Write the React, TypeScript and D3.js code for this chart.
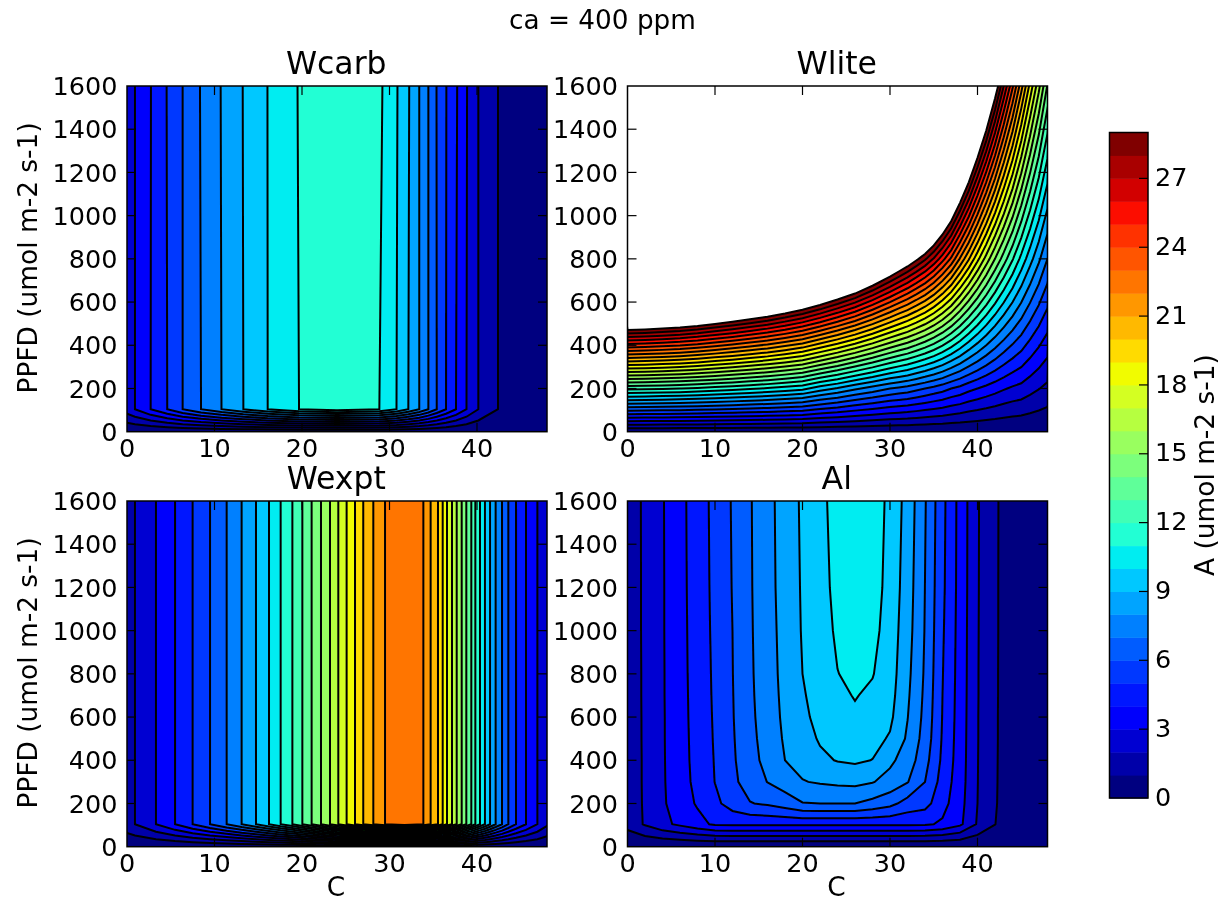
import React from "react";
import * as d3 from "d3";

const levels = d3.range(0, 30);
const cTicks = [0, 10, 20, 30, 40];
const ppfdTicks = [0, 200, 400, 600, 800, 1000, 1200, 1400, 1600];
const barTicks = [0, 3, 6, 9, 12, 15, 18, 21, 24, 27];

// Wcarb: columns sit on the places where the lines cross
const wcarbC = [0, 0.91, 2.7, 4.6, 6.36, 8.46, 10.8, 13.3, 16.08, 19.66, 24, 28.84, 30.8, 32.15, 33.4, 34.44, 35.4, 36.46, 37.6, 38.8, 40.15, 42.4, 44, 46, 48];
const wcarbPpfd = [0, 104, 1600];
const wcarbLow = [2.49, 3, 4, 5, 6, 7, 8, 9, 10, 11, 11.5, 11, 10, 9, 8, 7, 6, 5, 4, 3, 2, 1, 0.3, 0, 0];
const wcarbHigh = [2.49, 3, 3.98, 5.04, 6, 7.06, 8.04, 9.03, 10.01, 11.05, 11.6, 11.2, 10.08, 9.09, 8, 7, 5.97, 5.03, 4.12, 3.05, 2, 1, 0.3, 0, 0];

// Wexpt
const wexptC = [0, 0.91, 3.31, 5.49, 7.5, 9.49, 11.39, 13.1, 14.74, 16.23, 17.56, 18.9, 20.04, 21.1, 22.17, 23.2, 24.15, 25.1, 26.06, 27, 28.15, 29.49, 31.7, 33.87, 34.7, 35.54, 36.08, 36.57, 37.14, 37.68, 38.25, 38.78, 39.35, 39.81, 40.34, 40.91, 41.49, 42.13, 42.86, 43.58, 44.46, 45.6, 46.9, 48];
const wexptPpfd = [0, 104, 1600];
const wexptA = [1.62, 2, 3, 4, 5, 6, 7, 8, 9, 10, 11, 12, 13, 14, 15, 16, 17, 18, 19, 20, 21, 22, 22.9, 22, 21, 20, 19, 18, 17, 16, 15, 14, 13, 12, 11, 10, 9, 8, 7, 6, 5, 4, 3, 2.15];

// Wlite: finer columns where the lines bend hardest
const wliteC = [0, 2, 4, 6, 8, 10, 12, 14, 16, 18, 20, 22, 24, 26, 28, 30, 31, 32, 33, 34, 35, 36, 37, 38, 39, 40, 41, 42, 43, 44, 45, 46, 47, 48];
const wlitePpfd = [0, 200, 800, 1600];
const wlite200 = [12.32, 12.24, 12.14, 12.02, 11.84, 11.62, 11.4, 11.16, 10.9, 10.6, 10.28, 9.5, 8.9, 8.2, 7.6, 7.0, 6.8, 6.6, 6.3, 6.0, 5.7, 5.4, 5.0, 4.7, 4.3, 4.0, 3.7, 3.4, 3.1, 2.85, 2.68, 2.34, 2.04, 1.74];
const wlite800 = [49.3, 49.0, 48.6, 48.1, 47.4, 46.5, 45.6, 44.6, 43.6, 42.4, 41.1, 39.8, 38.2, 36.6, 34.6, 32.5, 31.4, 30.4, 29.3, 28.2, 26.9, 25.4, 23.8, 21.9, 20.1, 18.3, 16.6, 15.0, 13.5, 12.1, 10.7, 9.4, 8.2, 7.0];
const wlite1600 = [98.6, 97.9, 97.1, 96.2, 94.7, 93.0, 91.2, 89.3, 87.2, 84.8, 82.2, 79.5, 76.5, 73.1, 69.3, 65.0, 62.9, 60.8, 58.6, 56.3, 53.8, 50.9, 47.5, 43.8, 40.2, 36.6, 33.3, 30.1, 27.0, 24.2, 21.4, 18.7, 16.3, 13.9];

// Al
const alC = d3.range(0, 50, 2);
const alPpfd = [0, 104, 200, 300, 400, 500, 600, 700, 800, 1000, 1200, 1600];
const al104 = [1.35, 2.1, 2.75, 3.2, 3.7, 4.15, 4.2, 4.2, 4.2, 4.2, 4.2, 4.2, 4.2, 4.2, 4.2, 4.2, 4.2, 4.15, 3.85, 3.2, 1.9, 1.02, 0.25, 0, 0];
const al200 = [1.38, 2.13, 2.85, 3.55, 4.1, 4.75, 5.45, 5.95, 6.15, 6.5, 6.95, 7.0, 7.0, 7.0, 6.7, 6.3, 5.6, 5.35, 4.35, 3.35, 2.0, 1.1, 0.27, 0, 0];
const al300 = [1.4, 2.14, 2.88, 3.62, 4.25, 5.02, 5.75, 6.5, 7.02, 7.45, 7.95, 8.1, 8.2, 8.25, 8.05, 7.65, 7.05, 6.0, 4.6, 3.45, 2.02, 1.12, 0.28, 0, 0];
const al400 = [1.4, 2.14, 2.89, 3.65, 4.3, 5.06, 5.85, 6.65, 7.3, 8.0, 8.35, 8.8, 9.05, 9.15, 8.98, 8.2, 7.55, 6.35, 4.8, 3.5, 2.03, 1.13, 0.28, 0, 0];
const al500 = [1.4, 2.15, 2.9, 3.66, 4.33, 5.1, 5.9, 6.72, 7.42, 8.12, 8.6, 9.1, 9.35, 9.5, 9.3, 8.9, 7.85, 6.6, 4.9, 3.53, 2.04, 1.14, 0.29, 0, 0];
const al600 = [1.41, 2.15, 2.9, 3.67, 4.36, 5.13, 5.94, 6.78, 7.5, 8.2, 8.78, 9.3, 9.6, 9.85, 9.6, 9.2, 8.03, 6.72, 4.96, 3.56, 2.04, 1.14, 0.29, 0, 0];
const al700 = [1.41, 2.16, 2.91, 3.68, 4.38, 5.16, 5.96, 6.82, 7.55, 8.25, 8.9, 9.4, 9.8, 10.05, 9.82, 9.35, 8.15, 6.8, 5.0, 3.58, 2.05, 1.15, 0.29, 0, 0];
const al800 = [1.41, 2.16, 2.91, 3.69, 4.4, 5.18, 5.98, 6.85, 7.58, 8.3, 9.0, 9.48, 9.98, 10.2, 10.05, 9.45, 8.25, 6.87, 5.04, 3.6, 2.05, 1.15, 0.3, 0, 0];
const al1000 = [1.42, 2.17, 2.92, 3.7, 4.43, 5.22, 6.0, 6.88, 7.62, 8.35, 9.07, 9.58, 10.15, 10.4, 10.3, 9.55, 8.4, 6.95, 5.12, 3.62, 2.06, 1.16, 0.3, 0, 0];
const al1200 = [1.42, 2.17, 2.92, 3.71, 4.46, 5.25, 6.04, 6.9, 7.66, 8.4, 9.1, 9.68, 10.25, 10.55, 10.45, 9.65, 8.5, 6.99, 5.2, 3.65, 2.07, 1.16, 0.3, 0, 0];
const al1600 = [1.42, 2.18, 2.93, 3.73, 4.48, 5.29, 6.08, 6.92, 7.69, 8.44, 9.15, 9.76, 10.35, 10.7, 10.6, 9.73, 8.64, 7.08, 5.27, 3.67, 2.08, 1.17, 0.3, 0, 0];

const zeros = (n: number) => new Array(n).fill(0);

const panels = [
  { name: "Wcarb", left: 127, top: 86, c: wcarbC, ppfd: wcarbPpfd, rows: [zeros(wcarbC.length), wcarbLow, wcarbHigh], yLabel: true, xLabel: false },
  { name: "Wlite", left: 627.5, top: 86, c: wliteC, ppfd: wlitePpfd, rows: [zeros(wliteC.length), wlite200, wlite800, wlite1600], yLabel: false, xLabel: false },
  { name: "Wexpt", left: 127, top: 501, c: wexptC, ppfd: wexptPpfd, rows: [zeros(wexptC.length), wexptA, wexptA], yLabel: true, xLabel: true },
  { name: "Al", left: 627.5, top: 501, c: alC, ppfd: alPpfd, rows: [zeros(alC.length), al104, al200, al300, al400, al500, al600, al700, al800, al1000, al1200, al1600], yLabel: false, xLabel: true },
];

const panelW = 420;
const panelH = 345.7;
const font = "'DejaVu Sans', sans-serif";
const tickSize = 25.5;
const labelSize = 26.4;
const tickLen = 9;

// matplotlib's jet segments
const jetR = d3.scaleLinear().domain([0, 0.35, 0.66, 0.89, 1]).range([0, 0, 1, 1, 0.5]);
const jetG = d3.scaleLinear().domain([0, 0.125, 0.375, 0.64, 0.91, 1]).range([0, 0, 1, 1, 0, 0]);
const jetB = d3.scaleLinear().domain([0, 0.11, 0.34, 0.65, 1]).range([0.5, 1, 1, 0, 0]);
const jet = (t: number) => d3.rgb(jetR(t) * 255, jetG(t) * 255, jetB(t) * 255).formatHex();
const bandColor = (i: number) => jet(i / (levels.length - 2));

function Panel({ p }: { p: (typeof panels)[number] }) {
  const x = d3.scaleLinear().domain([0, 48]).range([0, panelW]);
  const y = d3.scaleLinear().domain([0, 1600]).range([panelH, 0]);
  // contour space -> data, columns and rows are not evenly spaced
  const colToC = d3.scaleLinear().domain(d3.range(p.c.length)).range(p.c);
  const rowToP = d3.scaleLinear().domain(d3.range(p.ppfd.length)).range(p.ppfd);
  const path = d3.geoPath(
    d3.geoTransform({
      point(px: number, py: number) {
        this.stream.point(x(colToC(px - 0.5)), y(rowToP(py - 0.5)));
      },
    })
  );
  const values = p.rows.flat();
  const contours = d3.contours().size([p.c.length, p.ppfd.length]).smooth(true);
  const clipId = `clip-${p.name}`;

  return (
    <g transform={`translate(${p.left},${p.top})`} fontFamily={font} fill="#000">
      <clipPath id={clipId}>
        <rect width={panelW} height={panelH} />
      </clipPath>
      <g clipPath={`url(#${clipId})`}>
        {levels.map((l, i) => (
          <path
            key={l}
            d={path(contours.contour(values, l)) || ""}
            fill={i < levels.length - 1 ? bandColor(i) : "#fff"}
            stroke="#000"
            strokeWidth={2}
          />
        ))}
      </g>
      <rect width={panelW} height={panelH} fill="none" stroke="#000" strokeWidth={1.5} />
      {cTicks.map((t) => (
        <g key={t} transform={`translate(${x(t)},0)`}>
          {t > 0 && <line y1={0} y2={tickLen} stroke="#000" strokeWidth={1.2} />}
          {t > 0 && <line y1={panelH} y2={panelH - tickLen} stroke="#000" strokeWidth={1.2} />}
          <text y={panelH + 25} textAnchor="middle" fontSize={tickSize}>{t}</text>
        </g>
      ))}
      {ppfdTicks.map((t) => (
        <g key={t} transform={`translate(0,${y(t)})`}>
          {t > 0 && t < 1600 && <line x1={0} x2={tickLen} stroke="#000" strokeWidth={1.2} />}
          {t > 0 && t < 1600 && <line x1={panelW} x2={panelW - tickLen} stroke="#000" strokeWidth={1.2} />}
          <text x={-9.5} dy="0.36em" textAnchor="end" fontSize={tickSize}>{t}</text>
        </g>
      ))}
      <text x={panelW / 2 - 0.75} y={-12} textAnchor="middle" fontSize={31.5}>{p.name}</text>
      {p.yLabel && (
        <text transform={`translate(-90,${panelH / 2 - 1}) rotate(-90)`} textAnchor="middle" fontSize={labelSize}>
          PPFD (umol m-2 s-1)
        </text>
      )}
      {p.xLabel && (
        <text x={panelW / 2 - 1} y={panelH + 49.5} textAnchor="middle" fontSize={labelSize}>C</text>
      )}
    </g>
  );
}

function ColorBar() {
  const y = d3.scaleLinear().domain([0, 29]).range([798, 132.5]);
  const left = 1109.5;
  const width = 38.5;
  return (
    <g fontFamily={font} fill="#000">
      {levels.slice(0, -1).map((l, i) => (
        <rect key={l} x={left} y={y(l + 1)} width={width} height={y(l) - y(l + 1) + 0.5} fill={bandColor(i)} />
      ))}
      <rect x={left} y={y(29)} width={width} height={y(0) - y(29)} fill="none" stroke="#000" strokeWidth={1.5} />
      {barTicks.map((t) => (
        <g key={t} transform={`translate(${left + width},${y(t)})`}>
          {t > 0 && <line x1={0} x2={-tickLen} stroke="#000" strokeWidth={1.2} />}
          <text x={7} dy="0.3em" fontSize={tickSize}>{t}</text>
        </g>
      ))}
      <text transform={`translate(1214,465) rotate(-90)`} textAnchor="middle" fontSize={labelSize}>
        A (umol m-2 s-1)
      </text>
    </g>
  );
}

export default function App() {
  return (
    <svg width={1219} height={903} style={{ position: "absolute", left: 0, top: 0, background: "#fff" }}>
      <defs>
        {/* the reference is a soft, upscaled raster */}
        <filter id="soft" x="0" y="0" width="100%" height="100%">
          <feGaussianBlur stdDeviation={0.55} />
        </filter>
      </defs>
      <g filter="url(#soft)">
        <rect width={1219} height={903} fill="#fff" />
        <text x={602.5} y={28.5} textAnchor="middle" fontFamily={font} fontSize={26.3}>ca = 400 ppm</text>
        {panels.map((p) => (
          <Panel key={p.name} p={p} />
        ))}
        <ColorBar />
      </g>
    </svg>
  );
}
